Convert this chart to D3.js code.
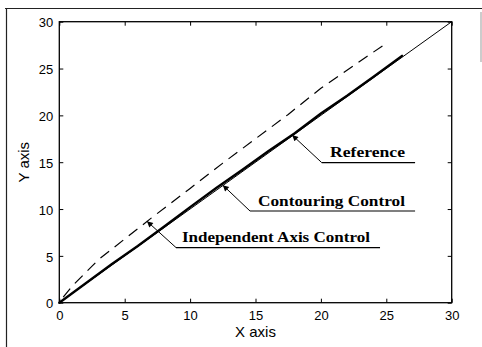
<!DOCTYPE html>
<html>
<head>
<meta charset="utf-8">
<script src="https://cdn.jsdelivr.net/npm/d3@7"></script>
<style>
  html, body { margin: 0; padding: 0; background: #fff; }
  svg { display: block; }
</style>
</head>
<body>
<script>
// ---- data ----
const xTicks = [0, 5, 10, 15, 20, 25, 30];
const yTicks = [0, 5, 10, 15, 20, 25, 30];
const referenceX = [0, 30];
const referenceY = [0, 30];
const contourX = [0, 2, 4, 6, 8, 10, 12, 14, 16, 18, 20, 22, 24, 26.2];
const contourY = [0, 2.05, 4.1, 6.05, 8.1, 10.2, 12.25, 14.2, 16.2, 18.1, 20.2, 22.1, 24.1, 26.35];
const independentX = [0.3, 1, 3, 5, 7, 10, 12.5, 15, 17.5, 20, 22.5, 25];
const independentY = [0.6, 1.8, 4.6, 6.8, 9.0, 12.2, 14.9, 17.5, 20.1, 22.9, 25.3, 27.7];
const labels = ["Reference", "Contouring Control", "Independent Axis Control"];

// ---- layout ----
const W = 482, H = 347;
const x = d3.scaleLinear().domain([0, 30]).range([59.3, 451.7]);
const y = d3.scaleLinear().domain([0, 30]).range([302.7, 21.7]);

const svg = d3.select("body").append("svg").attr("width", W).attr("height", H);

// outer figure frame (partial, as scanned)
svg.append("line").attr("x1", 5).attr("x2", 482).attr("y1", 8.5).attr("y2", 8.5)
  .attr("stroke", "#222").attr("stroke-width", 1.2);
svg.append("line").attr("x1", 6.5).attr("x2", 6.5).attr("y1", 8).attr("y2", 347)
  .attr("stroke", "#222").attr("stroke-width", 1.2);
svg.append("line").attr("x1", 481).attr("x2", 481).attr("y1", 12).attr("y2", 62)
  .attr("stroke", "#bbb").attr("stroke-width", 1.5);

// axes (inward ticks on all sides)
const tickLen = 4;
const gx = svg.append("g").attr("transform", `translate(0,${y(0)})`)
  .call(d3.axisBottom(x).tickValues(xTicks).tickSize(-tickLen).tickPadding(8).tickFormat(d3.format("d")));
const gy = svg.append("g").attr("transform", `translate(${x(0)},0)`)
  .call(d3.axisLeft(y).tickValues(yTicks).tickSize(-tickLen).tickPadding(6).tickFormat(d3.format("d")));
const gt = svg.append("g").attr("transform", `translate(0,${y(30)})`)
  .call(d3.axisTop(x).tickValues(xTicks).tickSize(-tickLen).tickFormat(""));
const gr = svg.append("g").attr("transform", `translate(${x(30)},0)`)
  .call(d3.axisRight(y).tickValues(yTicks).tickSize(-tickLen).tickFormat(""));
[gx, gy, gt, gr].forEach(g => {
  g.select(".domain").remove();
  g.selectAll("line").attr("stroke", "#000").attr("stroke-width", 1);
  g.selectAll("text").attr("fill", "#000")
    .style("font-family", "'Liberation Sans', Arial, sans-serif").style("font-size", "13px");
});
gy.selectAll("text").attr("dy", "0.4em");

// plot box
svg.append("rect").attr("x", x(0)).attr("y", y(30))
  .attr("width", x(30) - x(0)).attr("height", y(0) - y(30))
  .attr("fill", "none").attr("stroke", "#000").attr("stroke-width", 1.3);

// axis labels
svg.append("text").attr("x", (x(0) + x(30)) / 2).attr("y", 336.5)
  .attr("text-anchor", "middle").style("font-family", "'Liberation Sans', Arial, sans-serif")
  .style("font-size", "15px").text("X axis");
svg.append("text").attr("transform", `translate(28.5,${(y(0) + y(30)) / 2}) rotate(-90)`)
  .attr("text-anchor", "middle").style("font-family", "'Liberation Sans', Arial, sans-serif")
  .style("font-size", "15px").text("Y axis");

// series
const line = d3.line().x(d => x(d[0])).y(d => y(d[1]));
const zip = (a, b) => a.map((v, i) => [v, b[i]]);

svg.append("path").datum(zip(referenceX, referenceY)).attr("d", line)
  .attr("fill", "none").attr("stroke", "#000").attr("stroke-width", 1);
svg.append("path").datum(zip(contourX, contourY)).attr("d", line)
  .attr("fill", "none").attr("stroke", "#000").attr("stroke-width", 2.4).attr("stroke-linecap", "round");
svg.append("path").datum(zip(independentX, independentY)).attr("d", line)
  .attr("fill", "none").attr("stroke", "#000").attr("stroke-width", 1.2)
  .attr("stroke-dasharray", "11,7");

// annotations: tip (data), label anchor (data), underline end (data)
const annotations = [
  { text: labels[0], tip: [17.8, 17.9], anchor: [20.06, 14.96], end: 27.2, tx: 330 - 321.7, tl: 75 },
  { text: labels[1], tip: [12.5, 12.55], anchor: [14.58, 9.79], end: 27.2, tx: 258 - 250, tl: 147 },
  { text: labels[2], tip: [6.7, 8.7], anchor: [8.92, 5.89], end: 24.52, tx: 182 - 176, tl: 188 }
];

const defs = svg.append("defs");
defs.append("marker").attr("id", "arr").attr("viewBox", "0 0 10 10")
  .attr("refX", 10).attr("refY", 5).attr("markerWidth", 7).attr("markerHeight", 6)
  .attr("markerUnits", "userSpaceOnUse").attr("orient", "auto")
  .append("path").attr("d", "M0,0 L10,5 L0,10 z").attr("fill", "#000");

annotations.forEach(a => {
  const ax = x(a.anchor[0]), ay = y(a.anchor[1]);
  svg.append("line").attr("x1", ax).attr("y1", ay).attr("x2", x(a.tip[0])).attr("y2", y(a.tip[1]))
    .attr("stroke", "#000").attr("stroke-width", 1).attr("marker-end", "url(#arr)");
  svg.append("line").attr("x1", ax).attr("y1", ay).attr("x2", x(a.end)).attr("y2", ay)
    .attr("stroke", "#000").attr("stroke-width", 1.2);
  svg.append("text").attr("x", ax + a.tx).attr("y", ay - 5.5)
    .style("font-family", "'Liberation Serif', 'Times New Roman', serif")
    .style("font-weight", "bold").style("font-size", "15.5px")
    .attr("textLength", a.tl).attr("lengthAdjust", "spacingAndGlyphs")
    .text(a.text);
});
</script>
</body>
</html>
